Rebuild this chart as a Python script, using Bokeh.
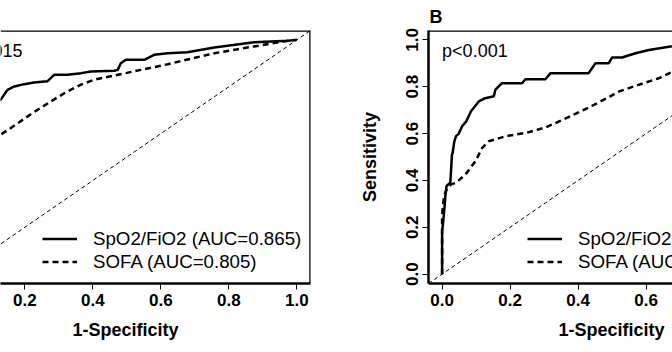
from bokeh.plotting import figure
from bokeh.models import (Range1d, FixedTicker, PrintfTickFormatter, Span, Slope,
                          Label, Legend, LegendItem, Title)
from bokeh.layouts import row
from bokeh.embed import file_html
from bokeh.resources import INLINE

FONT = "Liberation Sans"

# ---- data: panel A (left) ----
a_sf_x = [0, 0.0, 0.02, 0.05, 0.09, 0.129, 0.149, 0.169, 0.198, 0.227, 0.266, 0.276, 0.286,
          0.325, 0.365, 0.394, 0.463, 0.473, 0.482, 0.497, 0.551, 0.580, 0.620, 0.678, 0.757,
          0.874, 0.973, 1.0]
a_sf_y = [0, 0.30, 0.50, 0.62, 0.70, 0.745, 0.787, 0.801, 0.811, 0.818, 0.823, 0.837, 0.851,
          0.851, 0.858, 0.865, 0.868, 0.872, 0.900, 0.915, 0.915, 0.936, 0.943, 0.947, 0.967,
          0.990, 0.996, 1.0]
a_so_x = [0, 0.02, 0.06, 0.10, 0.129, 0.159, 0.227, 0.296, 0.325, 0.365, 0.404, 0.473, 0.541,
          0.620, 0.757, 0.874, 0.973, 1.0]
a_so_y = [0, 0.25, 0.44, 0.55, 0.596, 0.624, 0.692, 0.755, 0.780, 0.809, 0.830, 0.851, 0.872,
          0.896, 0.943, 0.972, 0.996, 1.0]

# ---- data: panel B (right) ----
b_sf_x = [0, 0, 0.002, 0.007, 0.010, 0.013, 0.024, 0.026, 0.029, 0.031, 0.036, 0.041, 0.049,
          0.059, 0.071, 0.085, 0.108, 0.127, 0.152, 0.157, 0.176, 0.235, 0.245, 0.304, 0.319,
          0.431, 0.451, 0.490, 0.500, 0.529, 0.569, 0.608, 0.667, 0.75, 0.85, 1.0]
b_sf_y = [0, 0.184, 0.206, 0.283, 0.340, 0.376, 0.390, 0.432, 0.511, 0.517, 0.567, 0.589, 0.600,
          0.631, 0.652, 0.695, 0.737, 0.751, 0.759, 0.788, 0.815, 0.815, 0.832, 0.832, 0.858,
          0.858, 0.900, 0.900, 0.925, 0.925, 0.943, 0.957, 0.971, 0.985, 0.993, 1.0]
b_so_x = [0, 0, 0.002, 0.007, 0.014, 0.026, 0.041, 0.069, 0.098, 0.118, 0.137, 0.188, 0.247,
          0.306, 0.365, 0.424, 0.482, 0.521, 0.580, 0.639, 0.669, 0.75, 0.85, 0.95, 1.0]
b_so_y = [0, 0.241, 0.291, 0.340, 0.362, 0.383, 0.390, 0.426, 0.482, 0.539, 0.567, 0.589, 0.603,
          0.627, 0.666, 0.706, 0.749, 0.780, 0.809, 0.837, 0.858, 0.89, 0.93, 0.97, 1.0]

ticks = [0.0, 0.2, 0.4, 0.6, 0.8, 1.0]
labels_a = ["SpO2/FiO2 (AUC=0.865)", "SOFA (AUC=0.805)"]
labels_b = ["SpO2/FiO2 (AUC=0.870)", "SOFA (AUC=0.725)"]
ptext_a = "p=0.015"
ptext_b = "p<0.001"
xlab = "1-Specificity"
ylab = "Sensitivity"
panel_tag_b = "B"


def style_axis(ax):
    ax.ticker = FixedTicker(ticks=ticks)
    ax.formatter = PrintfTickFormatter(format="%.1f")
    ax.axis_line_width = 2.5
    ax.axis_line_color = "black"
    ax.major_tick_line_width = 1
    ax.major_tick_line_color = "black"
    ax.major_tick_out = 6
    ax.major_tick_in = 0
    ax.minor_tick_out = 0
    ax.minor_tick_in = 0
    ax.major_label_text_font = FONT
    ax.major_label_text_font_style = "bold"
    ax.major_label_text_font_size = "17px"
    ax.major_label_text_color = "black"
    ax.major_label_standoff = 4


def panel(width, xr, border_l, border_r, sfx, sfy, sox, soy, leg_labels, ptext, ylabel,
          leg_x, side_span, xlab_offset):
    p = figure(width=width, height=352, x_range=Range1d(*xr), y_range=Range1d(-0.04, 1.04),
               output_backend="svg", toolbar_location=None,
               y_axis_location="left" if ylabel else None,
               min_border_left=border_l, min_border_right=border_r,
               min_border_top=29, min_border_bottom=69)
    p.grid.visible = False
    p.outline_line_color = None
    p.background_fill_color = "white"
    p.border_fill_color = "white"
    for ax in p.axis:
        style_axis(ax)
    if ylabel:
        p.yaxis.major_label_orientation = "vertical"
        p.yaxis.axis_label = ylabel
        p.yaxis.axis_label_text_font = FONT
        p.yaxis.axis_label_text_font_style = "bold"
        p.yaxis.axis_label_text_font_size = "18px"
        p.yaxis.axis_label_text_color = "black"
        p.yaxis.axis_label_standoff = 24

    p.add_layout(Slope(gradient=1, y_intercept=0, line_color="black", line_width=1,
                       line_dash="4 3"))
    r1 = p.line(sfx, sfy, line_color="black", line_width=2.5)
    r2 = p.line(sox, soy, line_color="black", line_width=2.5, line_dash="6 4")

    p.add_layout(Span(location=1.04, dimension="width", line_color="black", line_width=2.5))
    if side_span:
        p.add_layout(Span(location=1.04, dimension="height", line_color="black",
                          line_width=2.5))

    leg = Legend(items=[LegendItem(label=leg_labels[0], renderers=[r1]),
                        LegendItem(label=leg_labels[1], renderers=[r2])],
                 location=(leg_x, 10), border_line_color=None, background_fill_alpha=0,
                 padding=0, margin=0, spacing=0, glyph_width=35, glyph_height=23,
                 label_height=23, label_standoff=16, label_text_font=FONT,
                 label_text_font_size="18.7px", label_text_color="black")
    p.add_layout(leg)

    p.add_layout(Label(x=0, y=0.952, text=ptext, text_font=FONT, text_font_size="18px",
                       text_color="black", text_baseline="middle", text_align="left"))
    p.add_layout(Title(text=xlab, align="left", offset=xlab_offset, text_font=FONT,
                       text_font_size="18px", text_font_style="bold", text_color="black",
                       standoff=19), "below")
    return p


p1 = panel(336, (1.04 - 310 / 340.0, 1.04), 0, 26, a_sf_x, a_sf_y, a_so_x, a_so_y,
           labels_a, ptext_a, None, 42, True, 72)
p2 = panel(336, (-0.04, -0.04 + 244 / 340.0), 92, 0, b_sf_x, b_sf_y, b_so_x, b_so_y,
           labels_b, ptext_b, ylab, 99, False, 130)
p2.add_layout(Title(text=panel_tag_b, align="left", offset=1, text_font=FONT,
                    text_font_size="18px", text_font_style="bold", text_color="black",
                    standoff=8), "above")

layout = row(p1, p2)
open("out.html", "w").write(file_html(layout, INLINE))
